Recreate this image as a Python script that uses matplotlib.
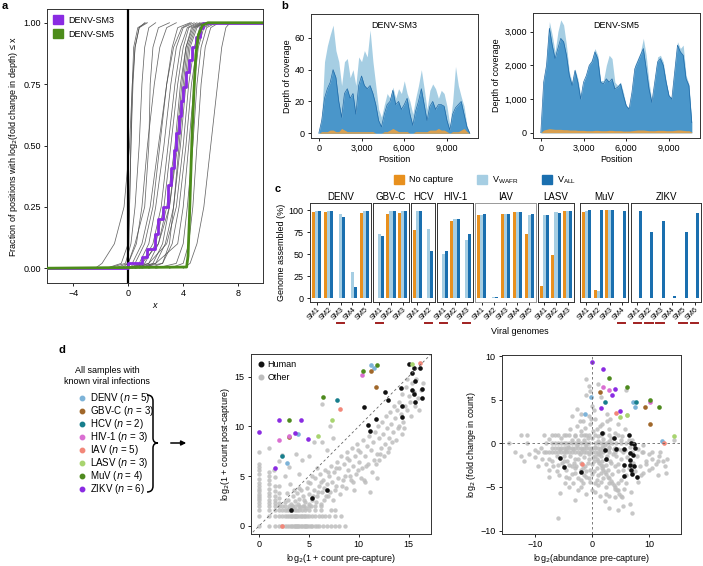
# -*- coding: utf-8 -*-
# capture figure: depth change CDF, coverage, genome assembled, count scatter
import numpy as np
import matplotlib.pyplot as plt
from matplotlib.patches import Patch, PathPatch, FancyArrowPatch
from matplotlib.lines import Line2D
from matplotlib.path import Path
from matplotlib.ticker import FuncFormatter

plt.rcParams['font.family'] = ['Liberation Sans', 'DejaVu Sans']
plt.rcParams['font.size'] = 6.5
plt.rcParams['axes.linewidth'] = 0.7
plt.rcParams['axes.edgecolor'] = '#333333'
plt.rcParams['xtick.major.size'] = 2.5
plt.rcParams['ytick.major.size'] = 2.5
plt.rcParams['xtick.major.width'] = 0.6
plt.rcParams['ytick.major.width'] = 0.6
plt.rcParams['xtick.major.pad'] = 2
plt.rcParams['ytick.major.pad'] = 2
plt.rcParams['xtick.labelsize'] = 6.5
plt.rcParams['ytick.labelsize'] = 6.5
plt.rcParams['axes.labelsize'] = 6.5
plt.rcParams['axes.labelpad'] = 2

PURPLE = '#8A2BE2'
GREEN = '#4C8C1A'
ORANGE = '#E8901E'
LIGHT = '#A6CEE3'
DARK = '#1A6FAF'

# ---------------- data: panel a (x where each curve reaches the fraction) ----------------
cdf_frac = [0, 0.02, 0.1, 0.25, 0.5, 0.75, 0.9, 0.98, 1.0]
gray_curves = [
    [-2.4, -1.9, -1.0, -0.3, 0.1, 0.3, 0.5, 0.8, 1.2],
    [-1.6, -0.5, 0.0, 0.1, 0.2, 0.35, 0.5, 0.8, 1.4],
    [-0.5, 0.0, 0.05, 0.1, 0.2, 0.3, 0.4, 0.7, 1.3],
    [-1.5, -0.2, 0.2, 0.5, 0.8, 1.0, 1.2, 1.5, 2.0],
    [-1.0, 0.0, 0.5, 1.2, 1.5, 1.6, 1.8, 2.2, 3.0],
    [0.0, 0.5, 1.2, 1.8, 2.3, 2.8, 3.2, 3.6, 4.5],
    [0.0, 0.8, 1.5, 2.0, 2.6, 3.1, 3.5, 4.0, 4.8],
    [0.2, 1.0, 1.8, 2.4, 2.9, 3.4, 3.8, 4.3, 5.0],
    [0.3, 1.2, 2.0, 2.6, 3.1, 3.6, 4.0, 4.4, 5.2],
    [0.5, 1.5, 2.2, 2.8, 3.4, 3.8, 4.2, 4.6, 5.3],
    [0.8, 1.8, 2.5, 3.0, 3.6, 4.0, 4.3, 4.8, 5.5],
    [1.0, 2.0, 2.7, 3.3, 3.8, 4.2, 4.5, 5.0, 5.6],
    [0.0, 1.5, 2.8, 3.5, 4.0, 4.4, 4.8, 5.2, 5.8],
    [1.5, 2.5, 3.2, 3.7, 4.2, 4.6, 5.0, 5.4, 6.0],
    [0.0, 2.0, 3.6, 4.0, 4.4, 4.8, 5.1, 5.5, 6.2],
    [2.0, 3.5, 4.0, 4.3, 4.7, 5.0, 5.3, 5.7, 6.4],
    [3.0, 4.0, 4.4, 4.7, 5.0, 5.3, 5.6, 6.0, 6.6],
    [4.0, 4.5, 5.0, 5.5, 6.0, 6.5, 6.8, 7.1, 7.4],
    [-0.3, 0.3, 1.0, 1.6, 2.2, 2.8, 3.3, 3.9, 4.6],
    [0.0, 0.0, 0.6, 1.0, 1.4, 1.9, 2.3, 2.8, 3.5],
    [0.0, 1.0, 2.2, 3.0, 3.5, 3.9, 4.2, 4.7, 5.4],
    [0.5, 2.5, 3.0, 3.3, 3.7, 4.1, 4.4, 4.9, 5.5],
]
sm3_x = [-6.5, 0.0, 0.0, 1.0, 1.35, 1.95, 2.2, 2.55, 2.9, 3.1, 3.3, 3.5, 3.66, 3.85, 4.0, 4.2, 4.4, 4.65, 4.9, 5.2, 5.45, 10]
sm3_y = [0.0, 0.0, 0.02, 0.045, 0.08, 0.14, 0.2, 0.25, 0.34, 0.41, 0.48, 0.55, 0.62, 0.68, 0.74, 0.8, 0.85, 0.9, 0.94, 0.98, 1.0, 1.0]
sm5_x = [-6.5, 4.25, 4.35, 4.45, 4.55, 4.65, 4.78, 4.92, 5.1, 5.4, 5.8, 10]
sm5_y = [0, 0.005, 0.05, 0.2, 0.38, 0.55, 0.72, 0.87, 0.95, 0.99, 1.0, 1.0]

# ---------------- data: panel b (coverage every 200 bp) ----------------
cov_pos = list(range(0, 10601, 200))
sm3_wafr = [0, 10, 45, 55, 62, 68, 52, 45, 30, 45, 47, 35, 40, 30, 48, 45, 52, 48, 65, 45, 30, 15, 10, 18, 25, 22, 29,
            22, 28, 25, 33, 25, 20, 12, 22, 30, 40, 28, 15, 27, 31, 28, 22, 27, 25, 17, 5, 20, 42, 30, 23, 17, 5, 0]
sm3_all = [0, 8, 22, 28, 32, 40, 35, 20, 10, 25, 28, 22, 25, 12, 30, 36, 30, 28, 30, 25, 18, 8, 4, 12, 18, 20, 27,
           18, 20, 15, 18, 22, 12, 5, 14, 20, 28, 18, 8, 17, 20, 15, 18, 18, 17, 8, 2, 12, 16, 18, 20, 12, 4, 0]
sm3_none = [0, 1, 1, 1, 2, 2, 1, 1, 3, 2, 1, 1, 1, 1, 1, 1, 1, 1, 1, 1, 0, 0, 0, 1, 1, 2, 3,
            2, 1, 1, 1, 1, 0, 0, 1, 1, 1, 1, 1, 2, 2, 2, 3, 2, 2, 1, 0, 1, 1, 1, 2, 3, 1, 0]
sm5_all = [0, 1500, 2000, 3100, 2600, 2200, 2500, 2800, 2700, 2300, 1700, 1400, 1850, 1500, 1000, 1500, 1700, 2000,
           2100, 2400, 2200, 1500, 1450, 1600, 1500, 1600, 1300, 1350, 1450, 1100, 800, 700, 1200, 1900, 2100, 2300,
           2500, 1900, 1300, 900, 1500, 2100, 2200, 2000, 1500, 1100, 1000, 1800, 2600, 2400, 2300, 1600, 1400, 300]
sm5_wafr = [0, 1500, 2100, 3300, 2900, 2400, 3000, 3350, 3200, 2600, 1800, 1500, 1900, 1600, 1100, 1450, 1750, 2050,
            2200, 2500, 2300, 1550, 1550, 2000, 2300, 2200, 1500, 1400, 1500, 1200, 800, 750, 1250, 2000, 2200, 2400,
            2800, 2300, 1500, 950, 1550, 2250, 2300, 2100, 1550, 1100, 1050, 1900, 2700, 2500, 2600, 1700, 1450, 300]
sm5_none = [0, 80, 100, 120, 110, 100, 100, 100, 90, 90, 80, 80, 80, 70, 70, 70, 60, 60, 60, 70, 70, 60, 60, 60, 70,
            70, 60, 60, 60, 50, 50, 50, 60, 70, 80, 80, 80, 70, 60, 60, 60, 70, 70, 70, 60, 60, 60, 70, 80, 80, 70,
            60, 60, 20]

# ---------------- data: panel c ----------------
facets = ['DENV', 'GBV-C', 'HCV', 'HIV-1', 'IAV', 'LASV', 'MuV', 'ZIKV']
genome_nocap = [[98, 98, 0, 0, 97], [0, 96, 97], [77, 0], [0, 87, 0], [94, 0, 96, 98, 73], [14, 49, 99],
                [98, 9, 100, 0], [0, 0, 0, 0, 0, 0]]
genome_wafr = [[99, 99, 95, 30, 99], [73, 99, 99], [99, 78], [50, 90, 66], [94, 1, 96, 98, 94], [94, 98, 99],
               [99, 8, 100, 0], [0, 0, 0, 0, 0, 0]]
genome_all = [[99, 99, 92, 13, 99], [70, 99, 99], [99, 54], [54, 90, 73], [96, 1, 96, 98, 95], [94, 97, 99],
              [100, 100, 100, 99], [99, 75, 87, 2, 75, 97]]
underlined = [[2], [0], [1], [0, 2], [], [], [3], [0, 1, 2, 4, 5]]

# ---------------- data: panel d ----------------
viruses = ['DENV', 'GBV-C', 'HCV', 'HIV-1', 'IAV', 'LASV', 'MuV', 'ZIKV']
virus_n = [5, 3, 2, 3, 5, 3, 4, 6]
virus_colors = ['#7DB3D8', '#A0672A', '#177E8C', '#DA6FD2', '#F28779', '#A8D46F', '#4E8A1E', '#8A2BE2']
# pre / post capture, log2(1 + count)
vir_pre = [[3.85, 11.2, 11.5, 2.8], [3.0, 11.2, 11.7], [2.3, 7.8], [3.0, 2.0, 10.3], [2.3, 8.1, 16.1],
           [5.9, 7.3, 15.3], [3.0, 6.4, 10.4, 11.8], [0.0, 2.0, 4.15, 4.9, 3.6, 1.6]]
vir_post = [[9.25, 16.2, 15.9, 6.3], [8.9, 15.6, 14.0], [7.0, 12.6], [9.0, 8.6, 15.2], [0.0, 11.7, 16.4],
            [9.0, 10.6, 16.3], [10.6, 12.9, 15.6, 16.2], [9.4, 10.6, 10.6, 8.7, 9.3, 5.8]]
# abundance pre-capture / fold change (log2)
vir_abund = [[-0.2, 7.1, 7.5, -1.3, 12.3], [1.4, 9.3, 10.1], [2.2, 7.7], [1.9, 2.9, 10.1], [4.2, 12.6, -1.7],
             [14.3, 4.9, 6.2], [2.9, 6.2, 10.2, 11.8], [0.0, 1.9, 4.1, 3.5, 1.5, 4.9]]
vir_fold = [[5.3, 4.8, 4.2, 3.4, 0.3], [5.9, 4.2, 2.2], [4.7, 4.7], [6.5, 6.1, 4.7], [3.5, 0.0, -2.4],
            [0.8, 3.0, 3.3], [7.5, 6.45, 5.0, 4.2], [9.3, 8.5, 6.3, 5.6, 4.1, 3.7]]

human_pre = [10.5, 10.9, 11.1, 11.7, 12.6, 12.9, 14.2, 14.3, 14.3, 15.3, 15.0, 15.5, 15.3, 16.1, 15.6, 15.5, 15.6,
             16.3, 16.3, 3.2, 5.3, 6.8]
human_post = [11.9, 10.1, 9.5, 10.7, 13.4, 12.6, 13.9, 12.0, 10.9, 13.6, 16.3, 15.9, 15.4, 15.9, 14.6, 13.2, 12.4,
              13.8, 12.8, 1.6, 2.8, 3.6]
human_abund = [1.75, 3.9, 6.4, 6.8, 7.4, 7.6, 5.6, 2.2, 4.2, 2.5, 6.7, 7.1, 6.7, 5.6, 6.7, 7.4, 6.8, 5.6, 7.0, 7.8,
               -5.6, -5.0, -1.9]
human_fold = [1.2, 0.57, 1.0, 0.1, -0.1, -0.5, -0.6, -0.8, -0.6, -1.8, -1.1, -1.3, -1.9, -2.5, -2.5, -2.6, -3.05,
              -3.7, -3.5, -3.9, -1.65, -2.7, -3.3]

# low-count grid of the "other" taxa (rows at fixed post, columns at fixed pre)
grid_row0 = [0, 1, 1.58, 2, 2.32, 2.58, 2.81, 3, 3.17, 3.32, 3.46, 3.58, 3.7, 3.81, 3.91, 4, 4.17, 4.32, 4.46, 4.58,
             4.7, 4.81, 5, 5.17, 5.32, 5.58, 5.81, 6, 6.4, 6.8, 7.2, 7.6, 8.0, 8.6]
grid_row1 = [0, 1, 1.58, 2, 2.32, 2.58, 2.81, 3, 3.17, 3.32, 3.46, 3.58, 3.7, 3.81, 4, 4.17, 4.32, 4.46, 4.58, 4.81,
             5, 5.32, 5.58, 6, 6.3, 6.6, 7.0, 7.6, 8.2]
grid_row158 = [0, 1, 1.58, 2, 2.32, 2.58, 2.81, 3, 3.17, 3.32, 3.58, 3.81, 4, 4.32, 4.58, 5, 5.58, 6.2, 7.2, 7.6]
grid_row2 = [0, 1, 1.58, 2, 2.32, 2.58, 3, 3.32, 3.58, 4, 4.46, 5, 5.6, 6.2]
grid_col0 = [2.32, 2.58, 2.81, 3, 3.17, 3.46, 3.7, 4, 4.32, 4.7, 5.2, 5.58, 5.9, 6.2, 7.4]
grid_col1 = [2.32, 2.58, 3, 3.32, 3.7, 4.17, 4.58, 5, 5.4, 7.8]
grid_col158 = [2.32, 2.58, 3, 3.46, 4.0, 4.9]
grid_col2 = [2.32, 2.81, 3.32, 4.0, 6.5]
other_pre = [2.6, 2.9, 3.2, 3.4, 3.6, 3.8, 4.0, 4.2, 4.4, 4.6, 4.8, 5.0, 5.1, 5.3, 5.5, 5.6, 5.8, 6.0, 6.1, 6.3, 6.4,
             6.6, 6.8, 6.9, 7.0, 7.2, 7.3, 7.5, 7.6, 7.8, 7.9, 8.0, 8.2, 8.3, 8.5, 8.6, 8.8, 8.9, 9.0, 9.2, 9.3, 9.4,
             9.6, 9.7, 9.8, 10.0, 10.1, 10.3, 10.4, 10.5, 10.6, 10.8, 10.9, 11.0, 11.1, 11.2, 11.4, 11.5, 11.6, 11.8,
             11.9, 12.0, 12.2, 12.3, 12.4, 12.6, 12.7, 12.8, 13.0, 13.1, 13.2, 13.4, 13.5, 13.6, 13.8, 13.9, 14.0,
             14.2, 14.3, 14.4, 14.6, 14.7, 14.8, 15.0, 15.1, 15.3, 15.5, 15.7, 15.9, 16.2, 16.4, 14.8, 13.0, 12.0,
             10.6, 9.5, 6.5, 4.4, 5.0, 11.8, 12.5, 14.3, 6.3, 7.1, 5.5, 3.7, 6.3, 4.3, 2.3, 5.0, 3.0, 2.6, 1.5, 4.0,
             6.8, 7.4,
             3.0, 3.3, 3.5, 3.9, 4.1, 4.5, 4.7, 5.2, 5.4, 5.7, 5.9, 6.2, 6.2, 6.5, 6.7, 7.1, 7.4, 7.7, 8.1, 8.4, 8.7,
             9.1, 9.4, 9.9, 10.2, 10.7, 11.3, 11.7, 12.1, 12.9, 13.3, 13.7, 14.0, 14.5, 15.2, 15.6, 16.0, 4.9, 5.3,
             4.0, 3.5, 6.9, 7.7, 8.8, 9.9, 3.1, 2.8, 5.8]
other_post = [2.4, 2.6, 2.2, 3.0, 2.5, 3.3, 2.7, 3.6, 3.0, 2.4, 3.8, 3.2, 4.3, 2.6, 3.6, 4.8, 3.0, 4.0, 5.2, 3.4, 4.6,
              5.6, 4.2, 3.0, 5.0, 6.0, 4.4, 5.4, 3.6, 6.4, 4.8, 5.8, 7.0, 4.0, 6.2, 5.0, 7.4, 5.6, 6.6, 4.6, 7.8, 6.0,
              7.0, 5.2, 8.2, 6.4, 7.4, 5.8, 8.6, 4.6, 7.0, 8.0, 6.2, 9.0, 3.4, 7.6, 8.4, 6.6, 9.4, 7.2, 10.0, 8.8,
              7.8, 10.4, 9.2, 8.2, 11.0, 9.8, 8.8, 11.4, 10.2, 9.4, 12.0, 10.8, 11.6, 9.8, 12.4, 11.2, 13.2, 10.4,
              12.0, 14.0, 11.6, 13.0, 12.4, 14.4, 13.4, 14.8, 12.8, 13.6, 14.4, 14.8, 7.8, 6.6, 4.4, 3.6, 2.6, 2.0,
              2.2, 4.8, 7.0, 9.2, 12.2, 10.0, 8.4, 7.2, 8.4, 6.6, 7.1, 7.0, 5.9, 5.0, 5.6, 5.2, 7.6, 8.8,
              1.8, 2.0, 1.7, 2.2, 1.9, 2.6, 1.8, 2.0, 3.0, 2.4, 3.4, 2.2, 4.4, 3.8, 3.0, 3.4, 2.6, 4.0, 3.2, 4.6, 3.8,
              5.0, 4.4, 5.6, 4.8, 6.0, 5.4, 6.2, 7.2, 7.4, 8.4, 8.6, 10.0, 9.8, 11.0, 12.0, 11.6, 4.4, 5.0, 3.8, 3.6,
              5.4, 5.8, 6.8, 7.6, 4.2, 3.3, 5.8]

abund_band0 = [-14.5, -11.5, -8.0, -7.0, -6.5, -6.0, -5.5, -5.0, -4.5, -4.0, -3.5, -3.0, -2.5, -2.0, -1.5, -1.0, -0.5,
               0.5, 1.0, 1.5, 2.0, 2.5, 3.0, 3.5, 4.2, 5.0, 6.0]
abund_band1 = [-13.5, -9.5, -8.5, -7.5, -7.0, -6.5, -6.0, -5.5, -5.0, -4.5, -4.0, -3.5, -3.0, -2.5, -2.0, -1.5, -1.0,
               -0.5, 0.0, 0.5, 1.0, 1.5, 2.0, 3.0, 4.0, 5.5, 7.0, 9.0, 10.5, 12.0]
abund_bandp1 = [-11.5, -8.5, -7.0, -6.0, -5.0, -4.0, -3.0, -2.0, -1.0, 0.5, 1.5, 3.0, 4.5]
abund_bandm05 = [-7.0, -6.0, -5.0, -4.0, -3.0, -2.0, -1.0, 0.0, 1.0, 2.0, 3.0, 4.0, -6.5, -5.5, -4.5, -3.5, -2.5,
                 -1.5, -0.5, 0.5]
other_abund = [0.5, 1.0, 1.5, 2.0, 2.5, 3.0, 3.5, 4.0, 4.5, 1.5, 2.5, 3.5, 4.5,
               -12.5, -12.0, -11.0, -10.0, -8.8, -9.5, -7.5, -6.8, -6.2, -5.8, -5.2, -4.6, -4.0, -3.6, -3.0, -2.4,
               -2.0, -1.6, -1.0, -0.6, 0.0, 0.4, 0.8, 1.2, 1.8, 2.4, 2.8, 3.2, 3.6, 4.0, 4.6, 5.0, 5.4, 5.8, 6.2, 6.6,
               7.2, 7.8, 8.4, 8.8, 9.4, 10.0, 10.6, 11.2, 11.8, 12.4, 13.2, 13.0, 11.5, 9.0, 8.0, 6.0,
               -5.5, -4.5, -3.8, -3.0, -2.6, -2.0, -1.6, -1.2, -0.8, -0.4, 0.2, 0.6, 1.0, 1.4, 2.0, 2.6, 3.0, 3.4, 4.0,
               4.6, 5.2, 5.8, 6.4, -6.5, -7.5, -2.6, -2.0, -1.0, -1.0, -0.3, 1.0, 1.6, 0.0, 5.9, 6.2, -0.6, 0.4, 2.6,
               3.2, -3.6, -12.5, -0.5, 14.3,
               -6.0, -5.7, -4.0, -3.0, -1.0, 0.0, 1.4, 2.2, 3.0, 4.0, 5.0, 5.4, 6.6, 7.0, -2.4, -1.6, 2.4, 5.6, -4.8,
               -3.4, 1.0, 6.8, 4.6, -7.5, -8.0, -0.4, 3.0,
               -4.2, -3.8, -3.4, -3.0, -2.6, -2.2, -1.8, -1.4, -1.0, -0.6, -0.2, 0.2, 0.6, 1.0, 1.4, 1.8, 2.2, 2.6,
               3.0, 3.4, 3.8, 4.2, 4.6, 5.0, -5.0, -4.6, -5.6, -6.2, -2.8, -2.0, -1.2, -0.4, 0.8, 1.6, -3.2, -4.4,
               -0.8, 0.4, 2.0, 2.8,
               -5.0, -4.0, -3.0, -2.0, -1.0, 0.0, 1.0, 2.0, 3.0, -3.5, -2.5, -1.5, -0.5, 0.5, 1.5,
               -1.5, -2.5, -3.5, 0.0, 1.0, 2.0, 3.0, 5.0, -0.5, -1.5, 0.8, -2.2, -0.2, 1.8,
               6.5, 7.5, 8.5, 9.5, 10.5, 11.5, 12.8, 10.0, 8.0, 9.0, 7.0, 6.0, 5.0, 4.5,
               -8.0, -7.0, -6.0, -9.0, -10.0, -7.5, -4.5, -2.0, 0.5, 2.5, 4.0,
               0.8, 1.3, 1.8, 2.3, 2.8, 3.3, 3.8, 4.3, 4.8, 5.3]
other_fold = [-1.5, -2.0, -2.5, -3.0, -3.5, -4.0, -4.5, -5.0, -5.3, -1.5, -2.5, -3.5, -4.5,
              -1.5, -2.0, -1.2, -1.6, -1.8, -2.6, -1.8, -2.6, -3.2, -3.6, -2.2, -3.0, -4.0, -2.6, -3.4, -1.8,
              -4.2, -2.8, -3.8, -1.8, -2.4, -3.2, -4.2, -1.2, -0.4, -1.8, -0.8, -2.0, -1.2, -2.6, -0.6, -1.8, -3.0,
              -0.8, -1.6, -0.4, -2.2, -1.4, -2.6, -1.0, -2.0, -3.0, -1.8, -2.4, -1.4, -2.0, -1.8, -3.4, -3.6, -3.4,
              -4.4, -4.6,
              0.6, 1.0, 1.6, 0.8, 2.0, 1.4, 2.6, 1.8, 0.6, 2.2, 1.4, 2.8, 0.8, 2.0, 1.2, 2.6, 1.6, 0.6, 1.2, 2.2,
              0.8, 1.6, 0.4, 1.0, 0.5, 3.9, 3.4, 5.6, 7.4, 6.0, 6.8, 5.3, 4.3, 6.1, 3.3, 3.2, 3.8, 3.4, 2.8, 3.2,
              1.0, 6.6, 0.4,
              -8.6, -5.7, -5.0, -6.5, -5.8, -5.4, -6.0, -6.6, -7.4, -6.2, -6.0, -7.2, -7.0, -8.0, -5.4, -4.6, -5.0,
              -5.2, -4.6, -4.6, -4.8, -5.6, -7.6, -3.8, -2.4, -4.4, -6.0,
              -0.4, -1.4, -0.6, -1.8, -0.2, -1.2, -0.6, -1.6, -0.2, -1.2, -0.6, -1.6, -0.4, -1.2, -0.6, -2.0, -0.2,
              -1.4, -0.4, -2.2, -0.6, -1.4, -2.4, -0.8, -1.4, -0.8, -0.6, -1.4, -2.6, -2.2, -2.6, -3.0, -2.8, -3.4,
              -2.2, -2.0, -2.2, -2.0, -2.6, -3.0,
              -2.0, -2.5, -2.8, -3.0, -3.2, -3.5, -3.6, -4.0, -4.5, -3.5, -4.0, -3.6, -4.0, -4.6, -4.4,
              0.4, 0.4, 0.4, 0.6, 0.3, 0.5, 0.3, 0.4, 1.0, 1.0, 1.6, 2.6, 2.8, 2.2,
              -2.8, -3.2, -3.6, -2.4, -2.8, -2.0, -2.6, -1.2, -0.6, -0.2, 0.4, -3.6, -4.2, -3.2,
              -1.0, -2.0, -2.5, -0.5, -0.8, -3.0, -3.8, -5.0, -5.6, -5.8, -5.2,
              -1.8, -2.3, -2.8, -3.3, -3.8, -4.3, -4.8, -5.3, -5.8, -6.1]

# ---------------- layout helpers (pixel boxes) ----------------
W, H = 703, 566


def box(l, t, r, b):
    return [l / W, 1 - b / H, (r - l) / W, (b - t) / H]


def fpt(x, y):
    return (x / W, 1 - y / H)


fig = plt.figure(figsize=(W / 100, H / 100), dpi=100)

# ================= a =================
ax = fig.add_axes(box(47, 9, 263, 283))
for xs in gray_curves:
    ax.plot(xs, cdf_frac, color='#4d4d4d', lw=0.55, alpha=0.85)
ax.axvline(0, color='black', lw=1.6, zorder=3)
ax.plot(sm3_x, sm3_y, color=PURPLE, lw=2.0, drawstyle='steps-post', zorder=4)
ax.plot(sm5_x, sm5_y, color=GREEN, lw=2.0, zorder=4)
ax.set_xlim(-5.9, 9.8)
ax.set_ylim(-0.06, 1.056)
ax.set_xticks([-4, 0, 4, 8])
ax.set_xticklabels(['\u22124', '0', '4', '8'])
ax.set_yticks([0, 0.25, 0.5, 0.75, 1.0])
ax.set_yticklabels(['0.00', '0.25', '0.50', '0.75', '1.00'])
ax.set_xlabel('x', style='italic')
ax.set_ylabel('Fraction of positions with log$_2$(fold change in depth) \u2264 x')
ax.legend(handles=[Patch(color=PURPLE, label='DENV-SM3'), Patch(color=GREEN, label='DENV-SM5')],
          loc='upper left', frameon=False, fontsize=6.5, handlelength=1.1, handleheight=1.1,
          borderaxespad=0.3, handletextpad=0.5, labelspacing=0.5)

# ================= b =================
comma = FuncFormatter(lambda v, p: f'{v:,.0f}')
for bx, title, wafr, allv, none, ylim, yt in [
        (box(311, 14, 478, 138), 'DENV-SM3', sm3_wafr, sm3_all, sm3_none, (-3, 75), [0, 20, 40, 60]),
        (box(533, 13, 700, 138), 'DENV-SM5', sm5_wafr, sm5_all, sm5_none, (-157, 3554), [0, 1000, 2000, 3000])]:
    ax = fig.add_axes(bx)
    ax.fill_between(cov_pos, wafr, color=LIGHT, lw=0)
    ax.fill_between(cov_pos, allv, color='#4A96CA', lw=0)
    ax.plot(cov_pos, allv, color='#1F6AA8', lw=0.5)
    ax.fill_between(cov_pos, none, color='#D9A050', lw=0)
    ax.set_xlim(-550, 11180)
    ax.set_ylim(*ylim)
    ax.set_xticks([0, 3000, 6000, 9000])
    ax.set_yticks(yt)
    ax.xaxis.set_major_formatter(comma)
    ax.yaxis.set_major_formatter(comma)
    ax.set_xlabel('Position', labelpad=1)
    ax.set_ylabel('Depth of coverage')
    ax.text(0.5, 0.94, title, transform=ax.transAxes, ha='center', va='top', fontsize=6.5)

# ================= c =================
facet_px = [(310, 371), (373, 409), (411, 435), (437, 473), (475, 536), (538, 574), (580, 628), (631, 701)]
for k, name in enumerate(facets):
    l, r = facet_px[k]
    ax = fig.add_axes(box(l, 203, r, 302))
    n = len(genome_all[k])
    xs = np.arange(n)
    ax.bar(xs - 0.26, genome_nocap[k], width=0.26, color=ORANGE)
    ax.bar(xs, genome_wafr[k], width=0.26, color=LIGHT)
    ax.bar(xs + 0.26, genome_all[k], width=0.26, color=DARK)
    ax.set_xlim(-0.55, n - 0.45)
    ax.set_ylim(-4.5, 108)
    ax.set_xticks(xs)
    ax.set_xticklabels([f'SM{i + 1}' for i in range(n)], rotation=45, ha='right',
                       rotation_mode='anchor', fontsize=5.2)
    ax.tick_params(axis='x', length=2, pad=1)
    ax.set_title(name, fontsize=7, pad=2)
    if name == 'IAV':
        for s in ax.spines.values():
            s.set_edgecolor('#999999')
    if k == 0:
        ax.set_yticks([0, 25, 50, 75, 100])
        ax.set_ylabel('Genome assembled (%)')
    else:
        ax.set_yticks([])
    for i in underlined[k]:
        ax.plot([i - 0.33, i + 0.33], [-0.215, -0.215], color='#A01F1F', lw=1.4,
                transform=ax.get_xaxis_transform(), clip_on=False)

fig.text(*fpt(520, 331), 'Viral genomes', ha='center', va='center', fontsize=6.5)
fig.legend(handles=[Patch(color=ORANGE, label='No capture'),
                    Patch(color=LIGHT, label='V$_\\mathregular{WAFR}$'),
                    Patch(color=DARK, label='V$_\\mathregular{ALL}$')],
           loc='center', bbox_to_anchor=fpt(485, 180), ncol=3, frameon=False, fontsize=6.5,
           handlelength=1.1, handleheight=1.1, columnspacing=2.6, handletextpad=0.6)

# ================= d (legend of viruses) =================
fig.text(*fpt(107, 376), 'All samples with\nknown viral infections', ha='center', va='center',
         fontsize=6.5, linespacing=1.3)
for i, v in enumerate(viruses):
    y = 398 + 13 * i
    fig.add_artist(Line2D([82 / W], [1 - y / H], marker='o', ms=3.2, color=virus_colors[i], lw=0))
    fig.text(*fpt(90, y), f'{v} ($n$ = {virus_n[i]})', ha='left', va='center', fontsize=7)

brace = [(147, 395), (153, 395), (153, 401), (153, 438), (153, 443), (158, 443),
         (153, 443), (153, 448), (153, 486), (153, 492), (147, 492)]
codes = [Path.MOVETO, Path.CURVE3, Path.CURVE3, Path.LINETO, Path.CURVE3, Path.CURVE3,
         Path.CURVE3, Path.CURVE3, Path.LINETO, Path.CURVE3, Path.CURVE3]
fig.add_artist(PathPatch(Path([fpt(*p) for p in brace], codes), fill=False, lw=1.1,
                         transform=fig.transFigure))
fig.add_artist(FancyArrowPatch(fpt(168, 443), fpt(189, 443), transform=fig.transFigure,
                               arrowstyle='-|>', mutation_scale=7, lw=1.1, color='black'))

# ================= d (pre vs post) =================
ax = fig.add_axes(box(251, 354, 431, 534))
gx = (grid_row0 + grid_row1 + grid_row158 + grid_row2
      + [0] * len(grid_col0) + [1] * len(grid_col1) + [1.58] * len(grid_col158) + [2] * len(grid_col2))
gy = ([0] * len(grid_row0) + [1] * len(grid_row1) + [1.58] * len(grid_row158) + [2] * len(grid_row2)
      + grid_col0 + grid_col1 + grid_col158 + grid_col2)
ax.scatter(gx + other_pre, gy + other_post, s=10, color='#BDBDBD', alpha=0.85, lw=0)
ax.plot([-1, 18], [-1, 18], ls=(0, (3, 3)), color='#666666', lw=0.6)
ax.scatter(human_pre, human_post, s=11, color='#111111', lw=0)
for k in range(len(viruses)):
    ax.scatter(vir_pre[k], vir_post[k], s=11, color=virus_colors[k], lw=0)
ax.set_xlim(-0.83, 17.25)
ax.set_ylim(-0.83, 17.27)
ax.set_xticks([0, 5, 10, 15])
ax.set_yticks([0, 5, 10, 15])
ax.set_xlabel('log$_2$(1 + count pre-capture)')
ax.set_ylabel('log$_2$(1 + count post-capture)')
ax.legend(handles=[Line2D([], [], marker='o', ms=3.3, lw=0, color='#111111', label='Human'),
                   Line2D([], [], marker='o', ms=3.3, lw=0, color='#BDBDBD', label='Other')],
          loc='upper left', frameon=False, fontsize=6.5, handlelength=0.8, handletextpad=0.3,
          borderaxespad=0.3, labelspacing=0.4)

# ================= d (abundance vs fold change) =================
ax = fig.add_axes(box(502, 355, 681, 534))
ab_x = abund_band0 + abund_band1 + abund_bandp1 + abund_bandm05 + other_abund
ab_y = ([0] * len(abund_band0) + [-1] * len(abund_band1) + [1] * len(abund_bandp1)
        + [-0.5] * len(abund_bandm05) + other_fold)
ax.scatter(ab_x, ab_y, s=10, color='#BDBDBD', alpha=0.85, lw=0)
ax.axhline(0, ls=(0, (3, 3)), color='#666666', lw=0.6)
ax.axvline(0, ls=(0, (3, 3)), color='#666666', lw=0.6)
ax.scatter(human_abund, human_fold, s=11, color='#111111', lw=0)
for k in range(len(viruses)):
    ax.scatter(vir_abund[k], vir_fold[k], s=11, color=virus_colors[k], lw=0)
ax.set_xlim(-15.8, 15.6)
ax.set_ylim(-10.4, 10.15)
ax.set_xticks([-10, 0, 10])
ax.set_yticks([-10, -5, 0, 5, 10])
ax.set_xticklabels(['\u221210', '0', '10'])
ax.set_yticklabels(['\u221210', '\u22125', '0', '5', '10'])
ax.set_xlabel('log$_2$(abundance pre-capture)')
ax.set_ylabel('log$_2$ (fold change in count)')

# panel letters
for lab, (px, py) in zip('abcd', [(5, 6), (285, 6), (278, 189), (62, 350)]):
    fig.text(*fpt(px, py), lab, ha='center', va='center', fontsize=8, weight='bold')

fig.savefig('out.png', dpi=100)
print('saved out.png')
